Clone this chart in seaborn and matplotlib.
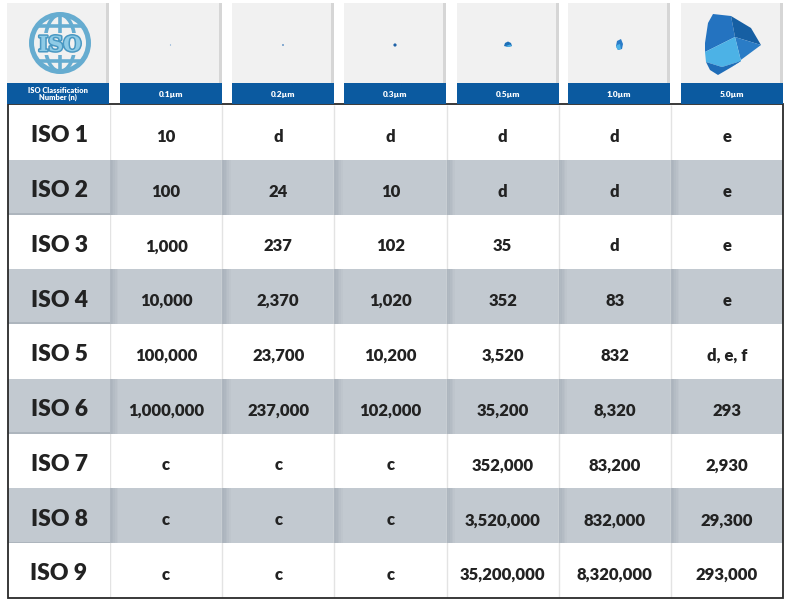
import numpy as np
import seaborn as sns
import matplotlib.pyplot as plt
from matplotlib.colors import ListedColormap
from matplotlib.patches import Rectangle, Circle, Ellipse, Polygon
import matplotlib.patheffects as pe

# 表格資料 (ISO 14644-1 潔淨度等級)
iso_classes = ["ISO 1", "ISO 2", "ISO 3", "ISO 4", "ISO 5", "ISO 6", "ISO 7", "ISO 8", "ISO 9"]
particle_sizes = ["0.1µm", "0.2µm", "0.3µm", "0.5µm", "1.0µm", "5.0µm"]
conc_01 = ["10", "100", "1,000", "10,000", "100,000", "1,000,000", "c", "c", "c"]
conc_02 = ["d", "24", "237", "2,370", "23,700", "237,000", "c", "c", "c"]
conc_03 = ["d", "10", "102", "1,020", "10,200", "102,000", "c", "c", "c"]
conc_05 = ["d", "d", "35", "352", "3,520", "35,200", "352,000", "3,520,000", "35,200,000"]
conc_10 = ["d", "d", "d", "83", "832", "8,320", "83,200", "832,000", "8,320,000"]
conc_50 = ["e", "e", "e", "e", "d, e, f", "293", "2,930", "29,300", "293,000"]
first_header = "ISO Classification\nNumber (n)"

sns.set_theme(style="white")
plt.rcParams['font.family'] = ['Lato', 'DejaVu Sans']

W, H = 800, 600
fig = plt.figure(figsize=(8, 6), dpi=100)


def px_axes(x0, y0, x1, y1, **kw):
    return fig.add_axes([x0 / W, 1 - y1 / H, (x1 - x0) / W, (y1 - y0) / H], **kw)


GRAY = "#c2c9d0"
SHADE = "#a9b2bb"
TXT = "#222222"
BLUE = "#0b5aa0"

values = np.array([conc_01, conc_02, conc_03, conc_05, conc_10, conc_50]).T
shade = np.array([[i % 2] * len(particle_sizes) for i in range(len(iso_classes))])
cmap = ListedColormap(["white", GRAY])

TOP, BOT = 105, 598
X0, XS, X1 = 8, 110, 783

# 左欄：等級名稱
ax_lab = px_axes(X0, TOP, XS, BOT)
sns.heatmap(shade[:, :1], cmap=cmap, vmin=0, vmax=1, cbar=False,
            annot=np.array(iso_classes).reshape(-1, 1), fmt="",
            annot_kws={"size": 16.5, "weight": "heavy", "color": TXT},
            xticklabels=False, yticklabels=False, ax=ax_lab)

# 數值區
ax = px_axes(XS, TOP, X1, BOT)
sns.heatmap(shade, cmap=cmap, vmin=0, vmax=1, cbar=False,
            annot=values, fmt="",
            annot_kws={"size": 12, "weight": "heavy", "color": TXT},
            xticklabels=False, yticklabels=False, ax=ax)

# 文字略往下
for a, dy in ((ax_lab, 0.06), (ax, 0.08)):
    for t in a.texts:
        x, y = t.get_position()
        t.set_position((x, y + dy))

# 欄分隔線與灰列陰影
nr, nc = len(iso_classes), len(particle_sizes)
for j in range(nc):
    ax.vlines(j, 0, nr, color="#e3e3e3", lw=1.0, zorder=1)
    for i in range(1, nr, 2):
        for k, a in enumerate([0.9, 0.75, 0.55, 0.35, 0.15]):
            ax.add_patch(Rectangle((j + k * 0.015, i), 0.015, 1, color=SHADE,
                                   alpha=a, lw=0, zorder=1))
for i in range(1, nr, 2):
    ax_lab.add_patch(Rectangle((0, i + 0.97), 1, 0.03, color="#9aa3ac", alpha=0.5, lw=0))

# 外框
ov = fig.add_axes([0, 0, 1, 1], facecolor="none")
ov.set_xlim(0, W)
ov.set_ylim(H, 0)
ov.axis("off")
ov.add_patch(Rectangle((X0, TOP - 1), X1 - X0, BOT - TOP + 1, fill=False,
                       ec="#2a2a2a", lw=1.3))

# 表頭
hdr_x = [7, 120, 232, 344, 457, 568, 681]
hdr_w = 102
headers = [first_header] + particle_sizes
for x, lab in zip(hdr_x, headers):
    ov.add_patch(Rectangle((x, 3), hdr_w, 80, color="#f1f1f1", lw=0))
    ov.add_patch(Rectangle((x + hdr_w - 3, 3), 3, 80, color="#d6d6d6", lw=0))
    ov.add_patch(Rectangle((x, 83), hdr_w, 21, color=BLUE, lw=0))
    ov.text(x + hdr_w / 2, 94, lab, color="white", ha="center", va="center",
            fontsize=5.4 if "\n" in lab else 6, weight="heavy", linespacing=1.1)

# 粒子示意
cy = 45
ov.add_patch(Circle((170.5, cy), 0.6, color="#6f9fcf", lw=0))
ov.add_patch(Circle((283, cy), 0.9, color="#4f86c0", lw=0))
ov.add_patch(Circle((395, cy), 1.6, color="#1f62a8", lw=0))
ov.add_patch(Polygon([(504, 46), (505, 43), (508, 41.5), (511, 43), (512, 46), (508, 47)],
                     color="#1d6fb8", lw=0))
ov.add_patch(Polygon([(506, 46), (510, 44.5), (512, 46), (508, 47)], color="#4db3e8", lw=0))
ov.add_patch(Polygon([(617, 41), (621, 39), (623, 44), (622, 49), (618, 50), (616, 46)],
                     color="#2a7cc8", lw=0))
ov.add_patch(Polygon([(617, 45), (620, 44), (621, 49), (618, 50), (616, 47)],
                     color="#4db3e8", lw=0))
# 5.0µm
facets = [
    ([(713, 14), (731, 16), (735, 37), (705, 52), (705, 43), (708, 23)], "#2473c0"),
    ([(731, 16), (751, 28), (761, 45), (735, 37)], "#165fa3"),
    ([(735, 37), (761, 45), (730, 68), (741, 61)], "#2a7cc6"),
    ([(705, 52), (735, 37), (741, 61), (722, 67), (706, 62)], "#4cb2e6"),
    ([(706, 62), (722, 67), (741, 61), (730, 68), (718, 75), (710, 70)], "#1f6db8"),
]
for pts, c in facets:
    ov.add_patch(Polygon(pts, color=c, lw=0, joinstyle="round"))

# ISO 標誌
lx, ly, r = 60, 43, 28.5
lc = "#66acd0"
ov.add_patch(Ellipse((lx, ly), 30, 2 * r, fill=False, ec=lc, lw=2.6))
ov.plot([lx, lx], [ly - r, ly + r], color=lc, lw=2.6)
for yy in (ly - 17, ly + 18):
    hw = np.sqrt(r ** 2 - (yy - ly) ** 2)
    ov.plot([lx - hw, lx + hw], [yy, yy], color=lc, lw=2.6)
ov.add_patch(Rectangle((lx - 25, ly - 10), 50, 22, color="#f1f1f1", lw=0, zorder=3))
ov.add_patch(Circle((lx, ly), r, fill=False, ec=lc, lw=3.6, zorder=4))
ov.text(lx, ly + 2, "ISO", ha="center", va="center", fontsize=15, weight="bold",
        family="DejaVu Serif", color="#8fcbe6", zorder=5,
        path_effects=[pe.withStroke(linewidth=2.2, foreground="#4a98c2")])

fig.savefig("out.png", dpi=100)
